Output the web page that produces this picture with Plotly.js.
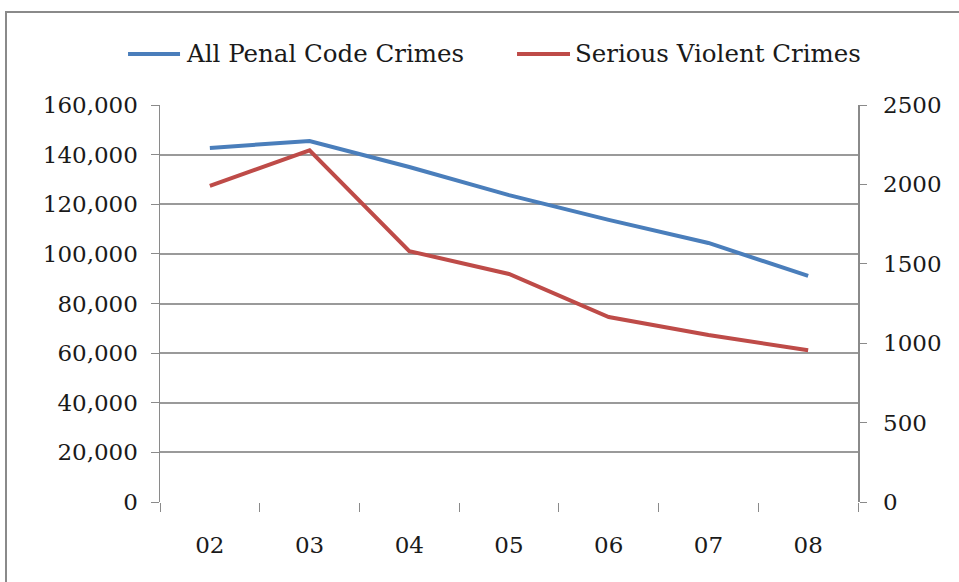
<!DOCTYPE html>
<html>
<head>
<meta charset="utf-8">
<script src="https://cdn.plot.ly/plotly-3.0.1.min.js"></script>
<style>
  html, body { margin: 0; padding: 0; background: #fff; overflow: hidden; }
  #chart { width: 959px; height: 582px; position: absolute; left: 0; top: 0; }
  #frame { position: absolute; left: 5px; top: 11px; width: 1000px; height: 1000px;
           border: 2px solid #8a8a8a; pointer-events: none; box-sizing: border-box; }
</style>
</head>
<body>
<div id="chart"></div>
<div id="frame"></div>
<script>
const years = ["02", "03", "04", "05", "06", "07", "08"];
const penalCode = [142700, 145500, 135000, 123700, 113700, 104400, 91100];
const seriousViolent = [1990, 2215, 1580, 1436, 1165, 1052, 955];
const leftTicks = [0, 20000, 40000, 60000, 80000, 100000, 120000, 140000, 160000];
const rightTicks = [0, 500, 1000, 1500, 2000, 2500];
const seriesNames = ["All Penal Code Crimes", "Serious Violent Crimes"];
const seriesColors = ["#4a7ebb", "#be4b48"];

const font = { family: "DejaVu Serif, serif", size: 23, color: "#1a1a1a" };
const legendFont = { family: "DejaVu Serif, serif", size: 24.5, color: "#1a1a1a" };

const traces = [
  {
    x: years, y: penalCode, name: seriesNames[0],
    type: "scatter", mode: "lines", yaxis: "y",
    line: { color: seriesColors[0], width: 4 }
  },
  {
    x: years, y: seriousViolent, name: seriesNames[1],
    type: "scatter", mode: "lines", yaxis: "y2",
    line: { color: seriesColors[1], width: 4 }
  }
];

// Custom legend (line samples + labels) placed like the original
const legendY = 1.1285;
const legendSpots = [
  { x0: -0.0458, x1: 0.0287, tx: 0.0344 },
  { x0: 0.5115, x1: 0.5874, tx: 0.5917 }
];
const shapes = legendSpots.map((s, i) => ({
  type: "line", xref: "paper", yref: "paper",
  x0: s.x0, x1: s.x1, y0: legendY, y1: legendY,
  line: { color: seriesColors[i], width: 4 }
}));
const annotations = legendSpots.map((s, i) => ({
  xref: "paper", yref: "paper", x: s.tx, y: legendY,
  xanchor: "left", yanchor: "middle", showarrow: false,
  text: seriesNames[i], font: legendFont
}));

const layout = {
  width: 959, height: 582,
  margin: { l: 160, r: 101, t: 105, b: 80 },
  paper_bgcolor: "#ffffff", plot_bgcolor: "#ffffff",
  font: font,
  showlegend: false,
  shapes: shapes,
  annotations: annotations,
  xaxis: {
    type: "category", range: [-0.5, 6.5],
    tickson: "boundaries", ticks: "outside", ticklen: 9, tickcolor: "#8a8a8a",
    showgrid: false, showline: false, zeroline: false,
    ticklabelstandoff: 27, fixedrange: true
  },
  yaxis: {
    range: [0, 160000], tickvals: leftTicks, tickformat: ",",
    showgrid: true, gridcolor: "#9a9a9a", gridwidth: 2,
    showline: true, linecolor: "#8a8a8a", linewidth: 1.5,
    ticks: "outside", ticklen: 8, tickcolor: "#8a8a8a",
    zeroline: false, ticklabelstandoff: 8
  },
  yaxis2: {
    range: [0, 2500], tickvals: rightTicks, overlaying: "y", side: "right",
    showgrid: false, showline: true, linecolor: "#8a8a8a", linewidth: 1.5,
    ticks: "outside", ticklen: 7, tickcolor: "#8a8a8a",
    zeroline: false, ticklabelstandoff: 12
  }
};

Plotly.newPlot("chart", traces, layout, { staticPlot: true, displayModeBar: false });
</script>
</body>
</html>
